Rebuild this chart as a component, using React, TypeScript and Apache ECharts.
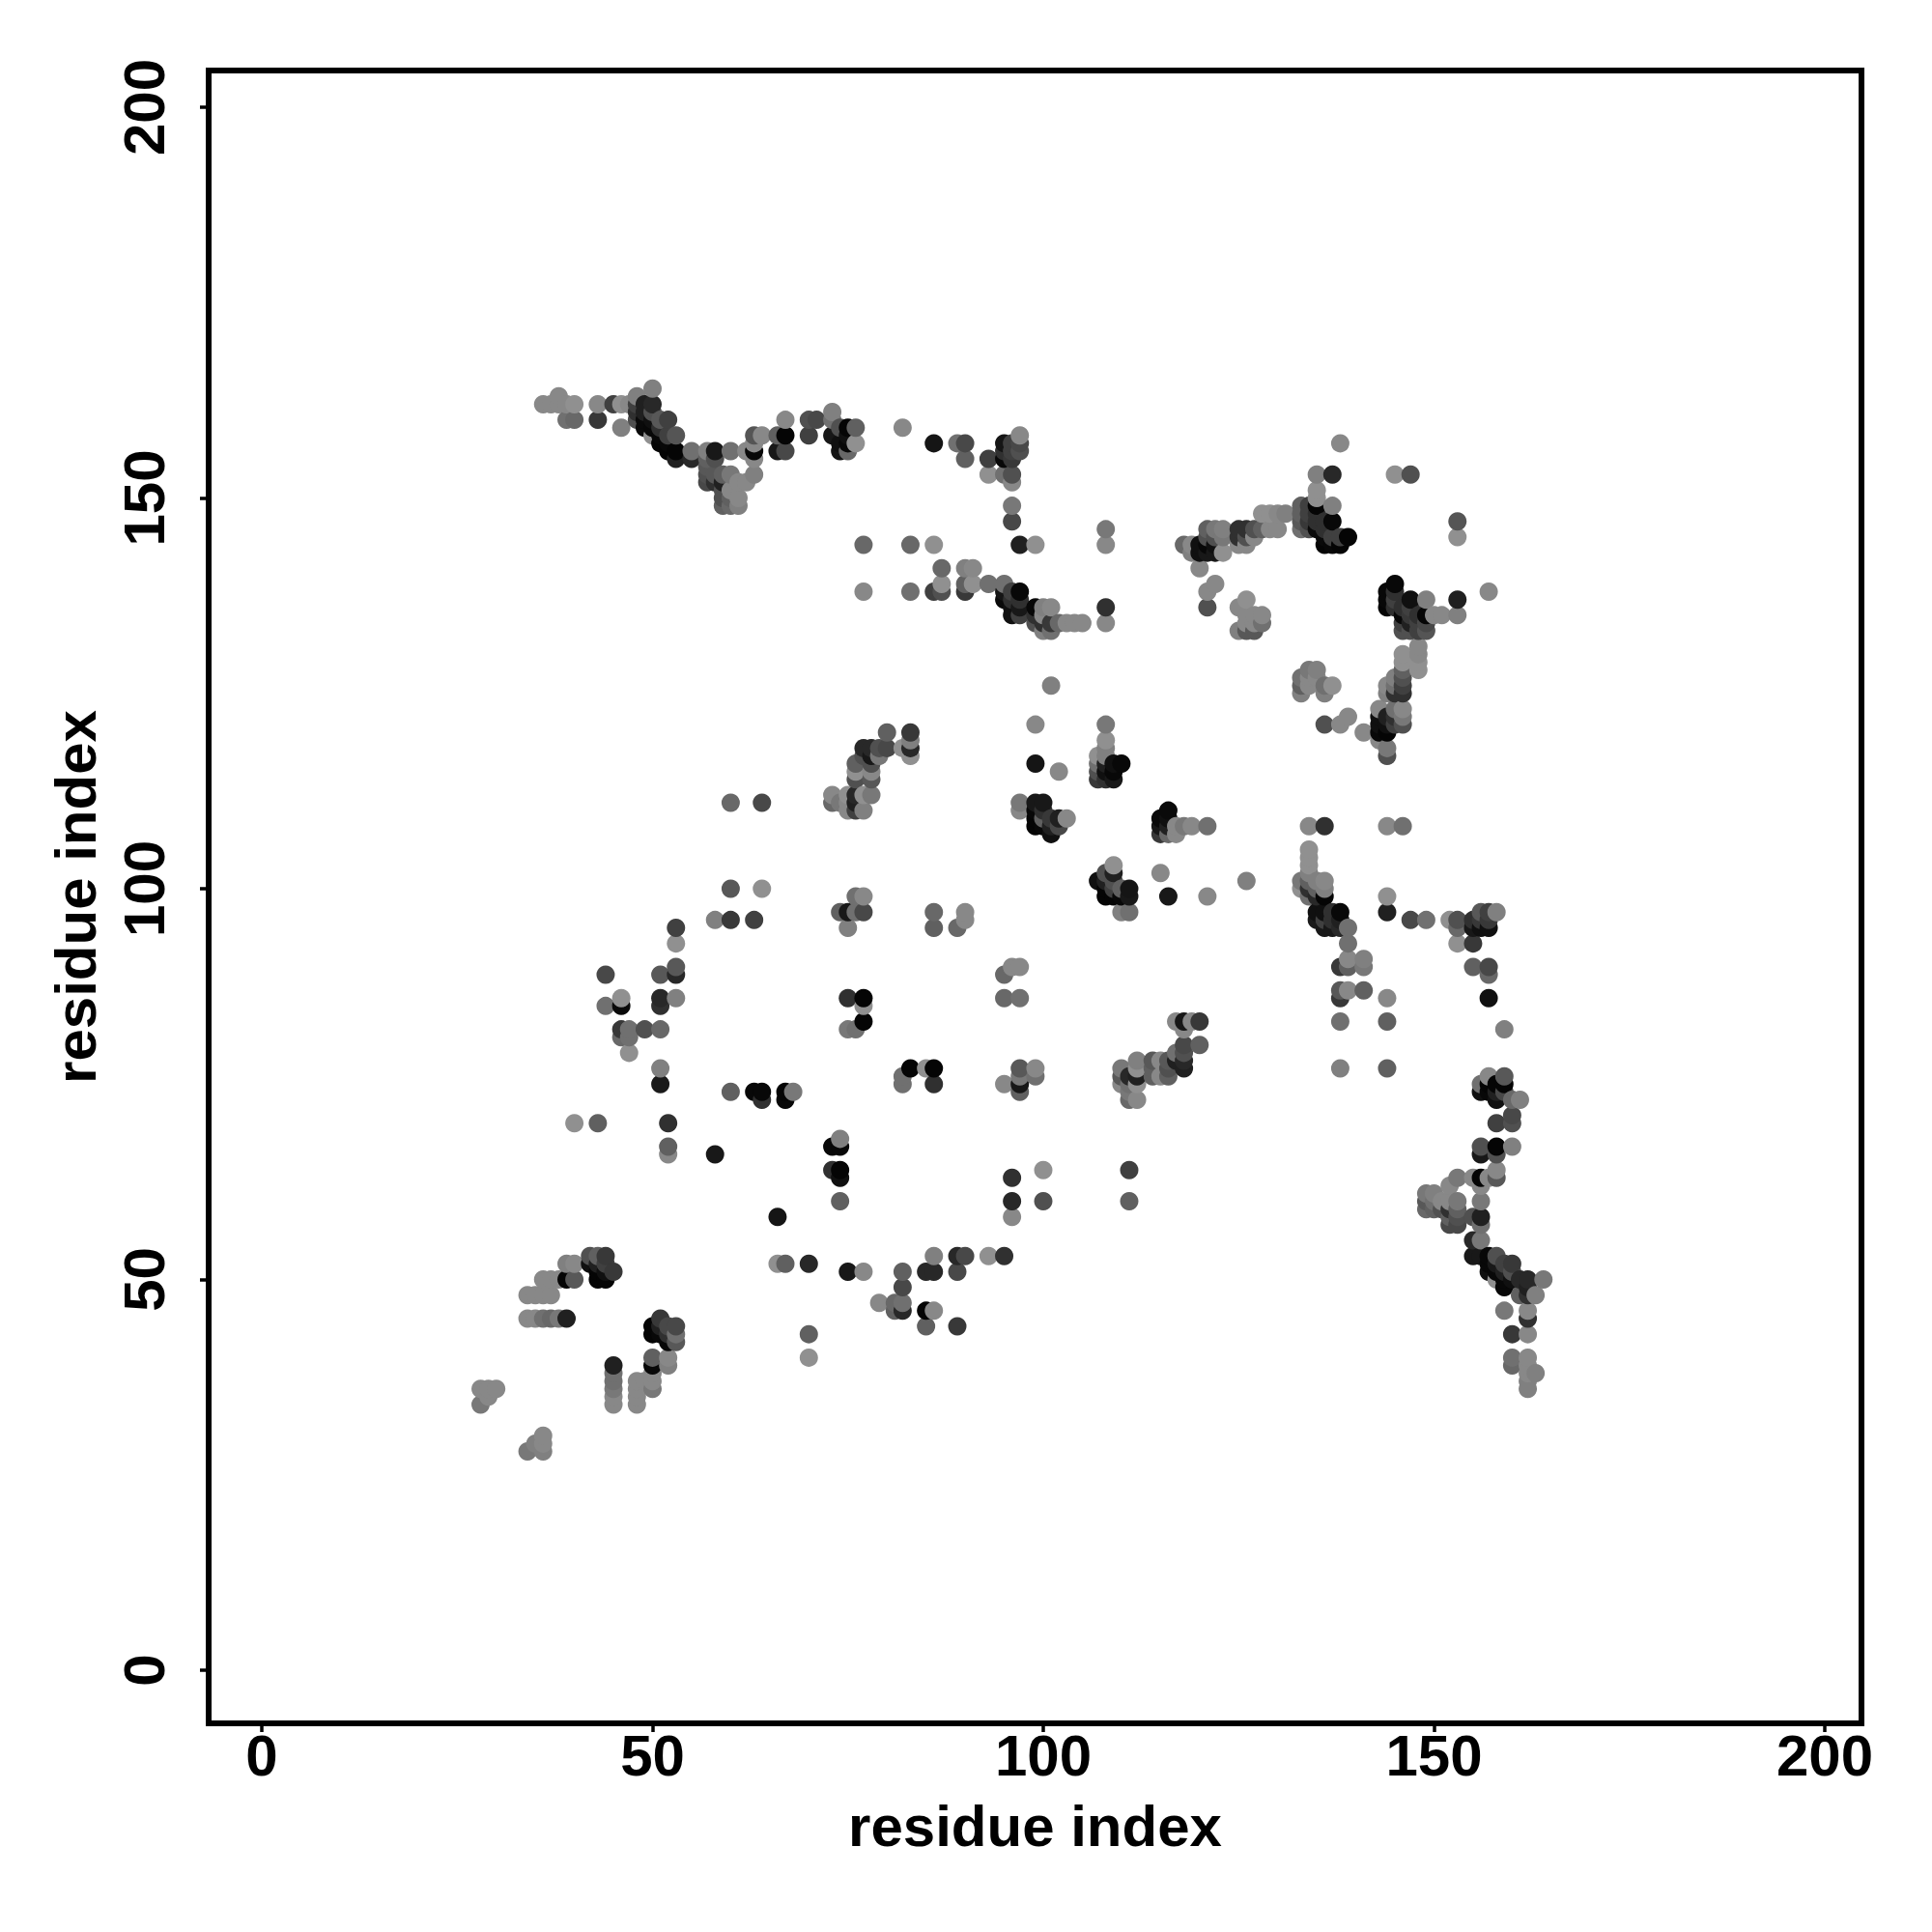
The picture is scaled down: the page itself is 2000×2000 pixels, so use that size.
import React, { useEffect, useRef } from "react";
import * as echarts from "echarts";

type P = [number, number, number];

const xTicks = [0, 50, 100, 150, 200];
const yTicks = [0, 50, 100, 150, 200];
const axisTitle = "residue index";

const topLeft: P[] = [
[36,162,0x88],[37,162,0x88],[38,163,0x88],[38,162,0x88],[39,162,0x88],[40,162,0x90],[39,160,0x70],[40,160,0x68],
[43,162,0x88],[43,160,0x38],[45,162,0x40],[46,162,0x90],[47,162,0x88],[46,159,0x80],[48,163,0x80],[48,162,0x40],[48,161,0x30],[48,160,0x50],
[49,162,0x20],[49,161,0x20],[49,160,0x0a],[49,159,0x0a],[50,164,0x80],[50,162,0x28],[50,161,0x50],[50,160,0x10],[50,159,0x08],[50,158,0x90],
[51,160,0x58],[51,159,0x30],[51,158,0x08],[51,157,0x05],[52,160,0x40],[52,158,0x40],[52,157,0x08],[52,156,0x05],[53,158,0x55],[53,156,0x05],[53,155,0x20],
[55,156,0x70],[55,155,0x28],[57,156,0x80],[57,155,0x60],[57,154,0x58],[57,153,0x50],[57,152,0x48],[58,156,0x18],[58,155,0x50],[58,153,0x58],[58,152,0x30],
[59,153,0x60],[59,152,0x20],[59,151,0x50],[59,150,0x50],[59,149,0x60],[60,156,0x70],[60,153,0x78],[60,151,0x88],[60,150,0x60],[60,149,0x68],[61,152,0x88],[61,150,0x88],[61,149,0x80],
[62,156,0x88],[62,152,0x88],[63,158,0x55],[63,157,0x88],[63,156,0x08],[63,155,0x88],[63,153,0x80],[64,158,0x88],[66,158,0x60],[66,156,0x18],[67,160,0x88],[67,158,0x05],[67,156,0x48],
[70,160,0x50],[70,158,0x40],[71,160,0x48],[73,161,0x80],[73,160,0x70],[73,158,0x18],[74,159,0x50],[74,157,0x10],[74,156,0x15],[75,159,0x05],[75,158,0x10],[75,157,0x08],[75,156,0x68],[76,159,0x60],[76,157,0x90],[82,159,0x88],
];

const topMiddle: P[] = [
[77,144,0x68],[83,144,0x68],[77,138,0x88],[83,138,0x70],[86,157,0x15],[89,157,0x70],[90,157,0x48],[90,155,0x60],[93,155,0x40],[93,153,0x90],
[95,157,0x15],[95,156,0x30],[95,155,0x08],[95,153,0x70],[96,157,0x40],[96,156,0x40],[96,155,0x38],[96,153,0x50],[96,152,0x88],[97,158,0x88],[97,157,0x48],[97,156,0x50],
[96,149,0x78],[96,147,0x48],[97,144,0x20],[99,144,0x90],[86,144,0x90],[108,146,0x78],[108,144,0x88],
[87,141,0x68],[90,141,0x80],[91,141,0x88],[87,139,0x90],[90,139,0x60],[91,139,0x90],[93,139,0x70],[95,139,0x70],[86,138,0x40],[87,138,0x50],[90,138,0x38],
[95,138,0x15],[95,137,0x0a],[96,138,0x40],[96,137,0x30],[97,138,0x08],[96,136,0x10],[97,137,0x30],[97,136,0x18],[96,135,0x10],[97,135,0x40],
[99,136,0x08],[99,135,0x30],[99,134,0x50],[100,136,0x80],[100,135,0x88],[100,134,0x30],[100,133,0x80],[101,136,0x88],[101,134,0x38],[101,133,0x70],[102,134,0x68],[103,134,0x88],[104,134,0x88],[105,134,0x88],[108,136,0x30],[108,134,0x88],
];

const topRight: P[] = [
[118,144,0x68],[119,144,0x88],[119,143,0x80],[120,144,0x10],[120,143,0x10],[120,141,0x88],[121,146,0x60],[121,145,0x50],[121,144,0x08],[121,143,0x18],[122,146,0x78],[122,145,0x50],[122,144,0x10],[122,143,0x18],[122,139,0x88],[121,138,0x88],[121,136,0x50],
[123,146,0x80],[123,145,0x78],[123,143,0x90],[125,146,0x30],[125,145,0x30],[125,144,0x88],[126,146,0x30],[126,145,0x50],[126,144,0x88],[127,146,0x50],[127,145,0x88],[128,146,0x60],[129,146,0x88],[130,146,0x88],
[128,148,0x90],[129,148,0x90],[130,148,0x88],[131,148,0x80],[126,137,0x90],[125,136,0x88],[126,135,0x88],[127,135,0x88],[128,135,0x88],[128,134,0x70],[126,134,0x88],[127,134,0x88],[125,133,0x80],[126,133,0x58],[127,133,0x58],
[138,157,0x88],[135,153,0x80],[137,153,0x28],[145,153,0x90],[147,153,0x50],[135,151,0x90],[135,150,0x90],[137,149,0x80],[137,147,0x08],[133,149,0x60],[134,149,0x40],[135,149,0x05],
[133,148,0x60],[133,147,0x58],[133,146,0x70],[134,148,0x40],[134,147,0x38],[134,146,0x50],[135,148,0x30],[135,147,0x30],[135,146,0x0a],[136,147,0x30],[136,146,0x30],[136,145,0x0a],[136,144,0x05],[137,145,0x40],[137,144,0x08],[138,145,0x40],[138,144,0x05],[139,145,0x05],
[153,147,0x55],[153,145,0x90],
[145,139,0x08],[144,138,0x08],[144,137,0x08],[144,136,0x05],[145,138,0x30],[145,137,0x40],[145,136,0x30],[147,137,0x10],[149,137,0x80],[153,137,0x20],[157,138,0x88],[146,136,0x30],[146,135,0x08],[147,136,0x40],[147,135,0x38],[148,135,0x30],[149,135,0x05],[150,135,0x88],[151,135,0x88],[153,135,0x80],
[146,134,0x40],[146,133,0x50],[147,134,0x20],[147,133,0x50],[148,134,0x40],[148,133,0x40],[149,134,0x48],[149,133,0x55],
[148,131,0x88],[148,130,0x88],[148,129,0x90],[148,128,0x90],[146,130,0x90],[146,129,0x90],[146,128,0x60],[146,127,0x50],[146,126,0x40],[146,125,0x30],[145,127,0x80],[145,126,0x70],[145,125,0x30],[144,126,0x88],[144,125,0x80],
[143,123,0x88],[145,123,0x70],[146,123,0x88],[146,122,0x78],[146,121,0x50],[144,122,0x20],[143,122,0x10],[143,121,0x10],[143,120,0x08],[144,121,0x10],[144,120,0x05],[145,122,0x30],[145,121,0x40],[141,120,0x88],[143,119,0x88],[144,118,0x78],[144,117,0x50],
[136,121,0x50],[138,121,0x88],[139,122,0x88],
[134,128,0x78],[135,128,0x80],[133,127,0x70],[133,126,0x60],[133,125,0x80],[134,127,0x88],[134,126,0x88],[135,127,0x88],[136,126,0x70],[136,125,0x80],[137,126,0x90],
];

const centerUpper: P[] = [
[101,126,0x80],[80,120,0x60],[83,120,0x38],[82,118,0x90],[83,119,0x80],[83,118,0x28],[83,117,0x90],
[77,118,0x28],[78,118,0x28],[79,118,0x50],[80,118,0x48],[77,117,0x50],[78,117,0x18],[79,117,0x78],[76,116,0x60],[78,116,0x50],[76,115,0x90],[78,115,0x88],[76,114,0x50],[78,114,0x58],
[73,112,0x88],[73,111,0x68],[74,111,0x78],[75,112,0x90],[75,111,0x88],[75,110,0x88],[76,112,0x28],[76,111,0x20],[76,110,0x40],[77,112,0x90],[77,110,0x80],[78,112,0x78],
[99,121,0x88],[108,121,0x78],[108,119,0x90],[107,117,0x90],[108,118,0x80],[99,116,0x15],[102,115,0x88],[107,116,0x70],[107,115,0x50],[107,114,0x38],[108,117,0x80],[108,116,0x20],[108,115,0x10],[108,114,0x30],[109,116,0x10],[110,116,0x08],[109,115,0x08],[109,114,0x18],
[97,111,0x78],[97,110,0x88],[99,111,0x18],[100,111,0x18],[99,110,0x08],[99,109,0x05],[99,108,0x05],[100,110,0x30],[100,109,0x60],[100,108,0x08],[101,109,0x38],[101,108,0x20],[101,107,0x10],[102,109,0x20],[102,108,0x48],[103,109,0x88],
[116,110,0x0a],[115,109,0x0a],[115,108,0x18],[115,107,0x38],[116,109,0x10],[116,108,0x20],[116,107,0x68],[117,108,0x88],[117,107,0x88],[118,108,0x78],[119,108,0x88],[121,108,0x70],
[60,111,0x68],[64,111,0x48],
[109,103,0x90],[108,102,0x50],[109,102,0x20],[107,101,0x10],[108,101,0x20],[109,101,0x50],[108,100,0x05],[109,100,0x40],[110,100,0x60],[111,100,0x15],[108,99,0x05],[109,99,0x05],[110,99,0x08],[111,99,0x18],[110,97,0x80],[111,97,0x70],
[115,102,0x88],[116,99,0x18],[121,99,0x88],[76,99,0x70],[77,99,0x88],[74,97,0x60],[75,97,0x18],[76,97,0x70],[77,97,0x48],[75,95,0x80],[86,97,0x68],[86,95,0x60],[90,97,0x88],[90,96,0x88],[89,95,0x68],
];

const centerRight: P[] = [
[134,108,0x88],[136,108,0x30],[144,108,0x88],[146,108,0x70],[134,105,0x90],[134,104,0x90],[134,103,0x90],[126,101,0x80],[133,101,0x78],[133,100,0x90],[134,102,0x80],[134,101,0x60],[134,100,0x30],[134,99,0x70],[135,101,0x80],[135,100,0x60],[135,99,0x28],[136,101,0x88],[136,100,0x80],[136,99,0x05],
[135,97,0x10],[135,96,0x1a],[136,97,0x10],[137,97,0x30],[138,97,0x08],[136,96,0x40],[136,95,0x18],[137,96,0x30],[137,95,0x18],[138,96,0x20],[138,95,0x28],[139,95,0x70],[139,93,0x70],[139,91,0x88],[141,91,0x80],[141,90,0x78],[138,90,0x38],[139,90,0x60],
[138,87,0x58],[138,86,0x38],[139,87,0x88],[141,87,0x60],[138,83,0x70],[138,77,0x80],[144,99,0x90],[144,97,0x20],[147,96,0x48],[149,96,0x70],[152,96,0x90],[153,96,0x50],[153,95,0x68],[153,93,0x90],[155,96,0x30],[155,95,0x18],[155,93,0x38],[156,97,0x58],[157,97,0x40],[158,97,0x80],[156,96,0x38],[156,95,0x10],[157,96,0x38],[157,95,0x10],
[155,90,0x60],[157,90,0x48],[157,89,0x68],[157,86,0x10],[144,86,0x88],[144,83,0x60],[144,77,0x60],[159,82,0x80],
];

const farRight: P[] = [
[157,76,0x88],[156,75,0x70],[159,76,0x58],[159,75,0x05],[156,74,0x10],[157,75,0x05],[157,74,0x08],[158,75,0x05],[158,74,0x20],[158,73,0x10],[159,74,0x48],[160,73,0x68],[161,73,0x80],[160,71,0x48],[158,70,0x40],[160,70,0x50],
[156,67,0x50],[156,66,0x18],[158,67,0x05],[158,66,0x50],[160,67,0x80],[158,64,0x88],[158,63,0x58],[156,63,0x05],[155,63,0x88],[157,63,0x88],[156,62,0x88],[153,63,0x78],[152,62,0x88],[156,60,0x78],
[149,61,0x78],[150,61,0x80],[151,60,0x88],[153,60,0x78],[149,60,0x58],[149,59,0x68],[150,60,0x70],[150,59,0x60],[151,59,0x50],[152,60,0x88],[152,59,0x30],[152,58,0x60],[152,57,0x48],[153,59,0x60],[153,58,0x50],[153,57,0x48],[155,58,0x50],[156,58,0x20],[156,57,0x70],[155,55,0x28],[156,55,0x78],
[155,53,0x18],[156,53,0x18],[157,53,0x08],[158,53,0x50],[157,52,0x08],[157,51,0x10],[158,52,0x18],[159,52,0x40],[160,52,0x38],[158,51,0x08],[159,51,0x20],[160,51,0x50],[158,50,0x90],[159,50,0x08],[159,49,0x08],[160,50,0x10],[161,50,0x28],[162,50,0x28],[161,48,0x60],[162,49,0x20],[162,48,0x30],[164,50,0x78],[163,48,0x80],
[162,46,0x88],[159,46,0x78],[162,45,0x30],[160,43,0x38],[162,43,0x88],[160,40,0x70],[160,39,0x68],[162,40,0x88],[162,39,0x88],[163,38,0x80],[162,38,0x88],[162,37,0x80],[162,36,0x80],
];

const centerLeft: P[] = [
[60,100,0x58],[64,100,0x90],[58,96,0x80],[60,96,0x38],[63,96,0x40],[53,95,0x40],[53,93,0x90],[44,89,0x48],[51,89,0x58],[53,89,0x28],[53,90,0x58],[44,85,0x70],[46,85,0x0a],[46,86,0x90],[51,86,0x28],[51,85,0x30],[53,86,0x80],
[46,82,0x38],[46,81,0x68],[47,82,0x70],[47,81,0x70],[49,82,0x50],[51,82,0x68],[47,79,0x90],[51,77,0x80],[51,75,0x1a],[40,70,0x90],[43,70,0x60],[52,70,0x30],[52,67,0x60],[52,66,0x88],[58,66,0x18],
[60,74,0x60],[63,74,0x08],[64,74,0x08],[64,73,0x30],[67,74,0x05],[67,73,0x08],[68,74,0x78],[75,86,0x30],[77,86,0x05],[77,85,0x90],[77,83,0x05],[75,82,0x78],[76,82,0x70],
[82,76,0x70],[82,75,0x70],[83,77,0x05],[85,77,0x90],[86,77,0x05],[86,75,0x30],[74,68,0x80],[73,67,0x08],[74,67,0x08],[73,64,0x30],[74,64,0x05],[74,63,0x10],[74,60,0x60],
];

const centerMiddle: P[] = [
[95,89,0x68],[96,90,0x88],[97,90,0x88],[95,86,0x68],[97,86,0x70],[95,75,0x88],[97,77,0x58],[97,76,0x78],[97,75,0x18],[97,74,0x60],[99,77,0x88],[99,76,0x70],
[110,77,0x78],[110,76,0x58],[110,75,0x88],[111,76,0x28],[112,78,0x80],[112,77,0x90],[112,76,0x20],[112,75,0x90],[111,75,0x70],[111,74,0x78],[111,73,0x68],[112,73,0x88],
[114,78,0x58],[114,77,0x60],[114,76,0x60],[115,78,0x88],[115,76,0x88],[116,78,0x58],[116,77,0x50],[116,76,0x60],[117,79,0x70],[117,78,0x20],[118,80,0x48],[118,79,0x50],[118,78,0x28],[118,77,0x20],[120,80,0x60],
[117,83,0x88],[118,83,0x18],[119,83,0x88],[120,83,0x38],[118,82,0x88],[96,63,0x30],[100,64,0x90],[111,64,0x40],[96,60,0x28],[100,60,0x50],[111,60,0x60],
];

const bottomMiddle: P[] = [
[66,58,0x15],[66,52,0x90],[67,52,0x60],[70,52,0x28],[75,51,0x18],[77,51,0x88],[82,51,0x60],[82,49,0x48],[79,47,0x88],[81,47,0x68],[81,46,0x60],[82,47,0x70],[82,46,0x28],[85,51,0x28],[86,51,0x28],[86,53,0x80],[89,53,0x28],[90,53,0x48],[89,51,0x48],[93,53,0x90],[95,53,0x30],
[85,46,0x05],[86,46,0x88],[85,44,0x60],[89,44,0x38],[70,43,0x60],[70,40,0x90],[96,58,0x88],
];

const bottomLeft: P[] = [
[34,48,0x88],[35,48,0x88],[36,48,0x88],[37,48,0x88],[36,50,0x88],[37,50,0x88],[38,50,0x88],[39,50,0x05],[40,50,0x58],[39,52,0x80],[40,52,0x88],[34,45,0x88],[35,45,0x88],[36,45,0x70],[37,45,0x68],[38,45,0x78],[39,45,0x20],
[42,53,0x50],[42,52,0x10],[43,53,0x60],[43,52,0x20],[44,53,0x38],[44,52,0x40],[43,51,0x05],[43,50,0x05],[44,51,0x10],[44,50,0x05],[45,51,0x38],
[51,45,0x38],[50,44,0x05],[50,43,0x05],[51,44,0x20],[51,43,0x08],[52,44,0x48],[53,44,0x48],[53,43,0x70],[53,42,0x58],[52,43,0x30],[52,42,0x08],
[50,40,0x60],[50,39,0x08],[52,40,0x88],[52,39,0x80],[45,39,0x20],[45,38,0x70],[45,37,0x70],[45,36,0x78],[45,35,0x88],[45,34,0x88],[48,37,0x88],[48,36,0x88],[48,35,0x88],[48,34,0x88],[49,37,0x88],[50,38,0x88],[50,37,0x88],[50,36,0x78],
[28,36,0x88],[29,36,0x88],[30,36,0x88],[29,35,0x88],[28,34,0x78],[36,30,0x88],[35,29,0x80],[36,29,0x88],[34,28,0x78],[36,28,0x80],
];

const points: P[] = [
  ...topLeft, ...topMiddle, ...topRight, ...centerUpper, ...centerRight, ...farRight,
  ...centerLeft, ...centerMiddle, ...bottomMiddle, ...bottomLeft,
].sort((a, b) => a[0] - b[0] || a[1] - b[1]);

const FONT = '"Liberation Sans", Arial, sans-serif';

export default function App() {
  const ref = useRef<HTMLDivElement>(null);
  useEffect(() => {
    const chart = echarts.init(ref.current!, undefined, { renderer: "svg" });
    const baseAxis = {
      type: "value" as const,
      name: axisTitle,
      nameLocation: "middle" as const,
      nameTextStyle: { fontFamily: FONT, fontWeight: "bold" as const, fontSize: 60, color: "#000" },
      min: -6.8,
      max: 204.7,
      splitLine: { show: false },
      axisLine: { show: false, onZero: false },
    };
    chart.setOption({
      animation: false,
      backgroundColor: "#fff",
      grid: {
        left: 216, top: 73, width: 1711, height: 1711,
        show: true, borderColor: "#000", borderWidth: 6, backgroundColor: "transparent",
      },
      xAxis: {
        ...baseAxis,
        nameGap: 76,
        axisTick: { show: true, length: 9, lineStyle: { color: "#000", width: 3.5 }, customValues: xTicks },
        axisLabel: { show: true, customValues: xTicks, margin: 3, fontFamily: FONT, fontWeight: "bold", fontSize: 60, color: "#000" },
      },
      yAxis: {
        ...baseAxis,
        nameGap: 108,
        axisTick: { show: true, length: 9, lineStyle: { color: "#000", width: 3.5 }, customValues: yTicks },
        axisLabel: { show: true, customValues: yTicks, rotate: 90, margin: 37, fontFamily: FONT, fontWeight: "bold", fontSize: 60, color: "#000" },
      },
      series: [{
        type: "scatter",
        data: points,
        symbol: "circle",
        symbolSize: 19,
        silent: true,
        clip: false,
        encode: { x: 0, y: 1 },
        itemStyle: {
          opacity: 1,
          color: (p: any) => {
            const g = p.value[2];
            return `rgb(${g},${g},${g})`;
          },
        },
      }],
    });
    return () => chart.dispose();
  }, []);
  return <div ref={ref} style={{ position: "absolute", left: 0, top: 0, width: 2000, height: 2000 }} />;
}
